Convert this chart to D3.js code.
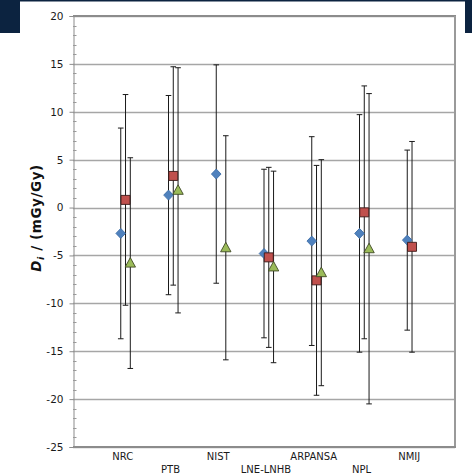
<!DOCTYPE html>
<html>
<head>
<meta charset="utf-8">
<script src="https://cdn.jsdelivr.net/npm/d3@7"></script>
<style>
  html, body { margin: 0; padding: 0; background: #fff; }
  svg { display: block; }
  text { font-family: "DejaVu Sans", Verdana, sans-serif; }
</style>
</head>
<body>
<svg id="chart" width="472" height="476"></svg>
<script>
// Laboratories (x positions 1..7)
const labs = ["NRC", "PTB", "NIST", "LNE-LNHB", "ARPANSA", "NPL", "NMIJ"];

// Degrees of equivalence D_i (mGy/Gy) and expanded uncertainties U_i, three comparisons
const diamondD = [-2.7, 1.3, 3.5, -4.8, -3.5, -2.7, -3.4];
const diamondU = [11.0, 10.4, 11.4, 8.8, 10.9, 12.4, 9.4];

const squareD = [0.8, 3.3, null, -5.2, -7.6, -0.5, -4.1];
const squareU = [11.0, 11.4, null, 9.4, 12.0, 13.2, 11.0];

const triangleD = [-5.8, 1.8, -4.2, -6.2, -6.8, -4.3, null];
const triangleU = [11.0, 12.8, 11.7, 10.0, 11.8, 16.2, null];

// y axis ticks
const yTicks = [20, 15, 10, 5, 0, -5, -10, -15, -20, -25];

const svg = d3.select("#chart");

// decorative navy frame pieces
svg.append("rect").attr("x", 0).attr("y", 0).attr("width", 465).attr("height", 1.5).attr("fill", "#0c2340");
svg.append("rect").attr("x", 0).attr("y", 0).attr("width", 20).attr("height", 33).attr("fill", "#0c2340");
svg.append("rect").attr("x", 465).attr("y", 0).attr("width", 7).attr("height", 33).attr("fill", "#0c2340");

const plotL = 73, plotR = 455, plotT = 16, plotB = 447;
const x = d3.scaleLinear().domain([0, 8]).range([plotL, plotR]);
const y = d3.scaleLinear().domain([-25, 20]).range([plotB, plotT]);

// horizontal grid
svg.append("g").selectAll("line").data(yTicks).join("line")
  .attr("x1", plotL).attr("x2", plotR)
  .attr("y1", d => Math.round(y(d)) + 0.5).attr("y2", d => Math.round(y(d)) + 0.5)
  .attr("stroke", "#a6a6a6").attr("stroke-width", 1.3);

// plot border: top, right, bottom
svg.append("line").attr("x1", plotL).attr("x2", plotR + 1).attr("y1", plotT).attr("y2", plotT)
  .attr("stroke", "#8c8c8c").attr("stroke-width", 2);
svg.append("line").attr("x1", plotR).attr("x2", plotR).attr("y1", plotT).attr("y2", plotB)
  .attr("stroke", "#9a9a9a").attr("stroke-width", 2);
svg.append("line").attr("x1", plotL).attr("x2", plotR + 1).attr("y1", plotB).attr("y2", plotB)
  .attr("stroke", "#8c8c8c").attr("stroke-width", 2);

// y axis with major (outer) ticks
const yAxis = d3.axisLeft(y).tickValues(yTicks).tickSize(4).tickPadding(6).tickFormat(d3.format("d"));
const gy = svg.append("g").attr("transform", `translate(${plotL + 0.5},0)`).call(yAxis);
gy.select(".domain").attr("stroke", "#8c8c8c");
gy.selectAll(".tick line").attr("stroke", "#8c8c8c");
gy.selectAll(".tick text")
  .attr("fill", "#1a1a1a")
  .style("font-family", "'DejaVu Sans', Verdana, sans-serif")
  .style("font-size", "10.5px")
  .text(d => d < 0 ? "-" + Math.abs(d) : d);

// minor ticks inside the axis, every 1 unit
const minor = d3.range(-25, 21).filter(v => v % 5 !== 0);
svg.append("g").selectAll("line").data(minor).join("line")
  .attr("x1", plotL).attr("x2", plotL + 3.5)
  .attr("y1", d => Math.round(y(d)) + 0.5).attr("y2", d => Math.round(y(d)) + 0.5)
  .attr("stroke", "#9a9a9a").attr("stroke-width", 1);

// y axis title
const title = svg.append("text")
  .attr("transform", `translate(41,218) rotate(-90)`)
  .attr("text-anchor", "middle")
  .style("font-size", "13.5px").style("font-weight", "bold")
  .style("letter-spacing", "0.6px").attr("fill", "#111");
title.append("tspan").style("font-style", "italic").text("D");
title.append("tspan").style("font-style", "italic").style("font-size", "9.5px").attr("dy", 3).text("i");
title.append("tspan").attr("dy", -3).text(" / (mGy/Gy)");

// category labels on two staggered rows
svg.append("g").selectAll("text").data(labs).join("text")
  .attr("x", (d, i) => x(i + 1) + 2)
  .attr("y", (d, i) => i % 2 === 0 ? 460 : 473)
  .attr("text-anchor", "middle")
  .style("font-size", "10px")
  .attr("fill", "#1a1a1a")
  .text(d => d);

// series definitions
const series = [
  { vals: diamondD, unc: diamondU, off: 0.0, shape: "diamond", fill: "#4f81bd", stroke: "#3d6ea8" },
  { vals: squareD, unc: squareU, off: 0.1, shape: "square", fill: "#c0504d", stroke: "#3b1a18" },
  { vals: triangleD, unc: triangleU, off: 0.2, shape: "triangle", fill: "#9bbb59", stroke: "#3f4a25" }
];

const shapePath = {
  diamond: "M0,-5L4.8,0L0,5L-4.8,0Z",
  square: "M-4.5,-4.5H4.5V4.5H-4.5Z",
  triangle: "M0,-5.5L5.2,4L-5.2,4Z"
};

// error bars
series.forEach(s => {
  const pts = s.vals.map((v, i) => ({ v, u: s.unc[i], xi: i + 1 + s.off })).filter(p => p.v !== null);
  const g = svg.append("g").attr("stroke", "#1a1a1a").attr("stroke-width", 1);
  pts.forEach(p => {
    const cx = x(p.xi);
    g.append("line").attr("x1", cx).attr("x2", cx).attr("y1", y(p.v + p.u)).attr("y2", y(p.v - p.u));
    g.append("line").attr("x1", cx - 2.8).attr("x2", cx + 2.8).attr("y1", y(p.v + p.u)).attr("y2", y(p.v + p.u));
    g.append("line").attr("x1", cx - 2.8).attr("x2", cx + 2.8).attr("y1", y(p.v - p.u)).attr("y2", y(p.v - p.u));
  });
});

// markers
series.forEach(s => {
  const pts = s.vals.map((v, i) => ({ v, xi: i + 1 + s.off })).filter(p => p.v !== null);
  svg.append("g").selectAll("path").data(pts).join("path")
    .attr("transform", p => `translate(${x(p.xi)},${y(p.v)})`)
    .attr("d", shapePath[s.shape])
    .attr("fill", s.fill).attr("stroke", s.stroke).attr("stroke-width", 0.9);
});
</script>
</body>
</html>
